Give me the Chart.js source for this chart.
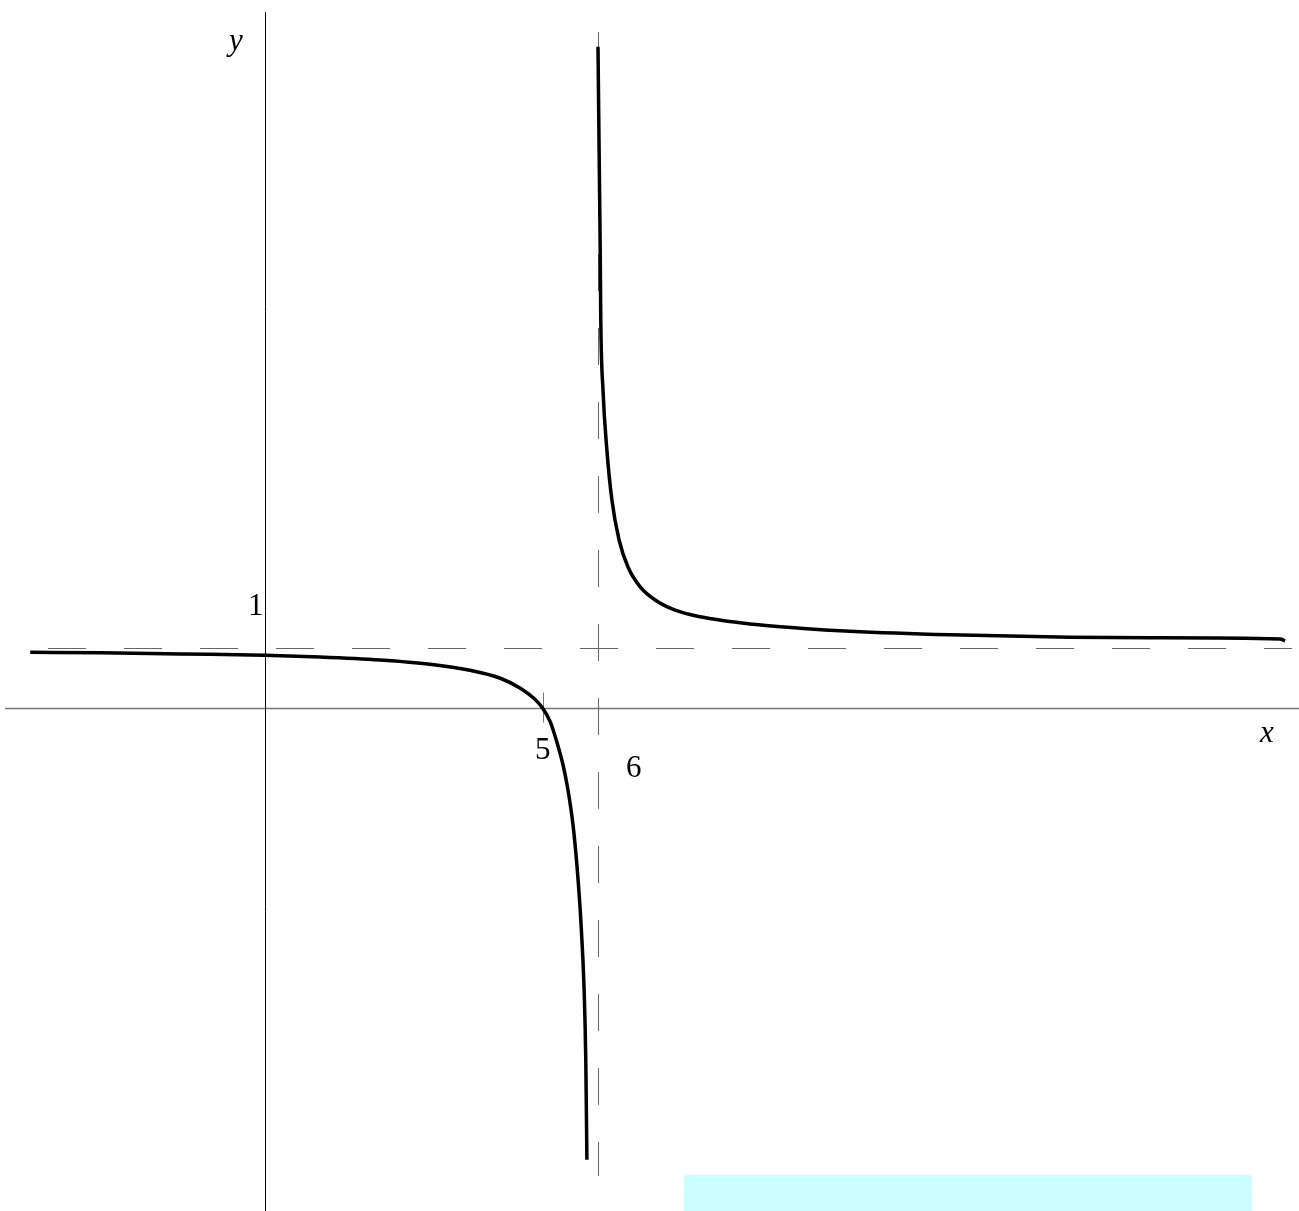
<!DOCTYPE html>
<html>
<head>
<meta charset="utf-8">
<script src="https://cdn.jsdelivr.net/npm/chart.js@4.4.1/dist/chart.umd.min.js"></script>
<style>
  body { margin: 0; background: #fff; }
  #wrap { position: relative; width: 1299px; height: 1211px; }
  #box { position: absolute; left: 684px; top: 1175px; width: 568px; height: 36px; background: #ccffff; }
</style>
</head>
<body>
<div id="wrap">
  <canvas id="chart"></canvas>
  <div id="box"></div>
</div>
<script>
// points, left branch (x < 6) and right branch (x > 6)
var leftX = [-4.23, -2.97, -1.53, 0, 0.99, 2.07, 2.97, 3.69, 4.23, 4.6, 4.86, 5.0, 5.14, 5.26, 5.37, 5.46, 5.55, 5.62, 5.69, 5.75, 5.78, 5.8];
var leftY = [0.93, 0.92, 0.9, 0.88, 0.85, 0.8, 0.73, 0.63, 0.5, 0.33, 0.15, 0, -0.23, -0.57, -0.95, -1.37, -1.95, -2.62, -3.53, -4.7, -5.87, -7.53];
var rightX = [6.0, 6.02, 6.04, 6.05, 6.09, 6.16, 6.25, 6.38, 6.54, 6.76, 7.03, 7.39, 7.84, 8.74, 9.64, 10.54, 12.34, 14.5, 15.95, 18.29, 18.38];
var rightY = [11.02, 9.3, 7.63, 6.47, 5.3, 4.3, 3.47, 2.8, 2.35, 2.02, 1.8, 1.63, 1.52, 1.4, 1.33, 1.28, 1.22, 1.18, 1.17, 1.15, 1.12];

var vAsym = 6;
var hAsym = 1;
var xTicks = [5, 6];
var yTicks = [1];

function toPoints(xs, ys) {
  var pts = [];
  for (var i = 0; i < xs.length; i++) pts.push({ x: xs[i], y: ys[i] });
  return pts;
}

var serif = "'Liberation Serif', 'Times New Roman', Times, serif";

var axesPlugin = {
  id: "axes",
  beforeDatasetsDraw: function (chart) {
    var ctx = chart.ctx;
    var sx = chart.scales.x, sy = chart.scales.y;
    var x0 = Math.round(sx.getPixelForValue(0)) + 0.5, y0 = Math.round(sy.getPixelForValue(0)) + 0.5;
    var xa = Math.round(sx.getPixelForValue(vAsym)) + 0.5, ya = Math.round(sy.getPixelForValue(hAsym)) + 0.5;
    ctx.save();
    // x axis
    ctx.strokeStyle = "#777";
    ctx.lineWidth = 1.5;
    ctx.beginPath();
    ctx.moveTo(5, y0); ctx.lineTo(1299, y0);
    ctx.stroke();
    // tick at 5
    var t5 = Math.round(sx.getPixelForValue(xTicks[0])) + 0.5;
    ctx.lineWidth = 1;
    ctx.beginPath();
    ctx.moveTo(t5, y0 - 16); ctx.lineTo(t5, y0 + 14);
    ctx.stroke();
    // y axis
    ctx.strokeStyle = "#000";
    ctx.lineWidth = 1;
    ctx.beginPath();
    ctx.moveTo(x0, 12); ctx.lineTo(x0, 1211);
    ctx.stroke();
    // asymptotes
    ctx.strokeStyle = "#666";
    ctx.lineWidth = 1;
    ctx.setLineDash([38, 38]);
    ctx.beginPath();
    ctx.moveTo(48, ya); ctx.lineTo(1292, ya);
    ctx.stroke();
    ctx.setLineDash([37, 37]);
    ctx.beginPath();
    ctx.moveTo(xa, 32); ctx.lineTo(xa, 1176);
    ctx.stroke();
    ctx.restore();
  },
  afterDraw: function (chart) {
    var ctx = chart.ctx;
    ctx.save();
    ctx.fillStyle = "#000";
    ctx.textBaseline = "alphabetic";
    ctx.font = "italic 31px " + serif;
    ctx.fillText("y", 229, 50);
    ctx.fillText("x", 1260, 742);
    ctx.font = "31px " + serif;
    ctx.fillText(String(yTicks[0]), 248, 615);
    ctx.fillText(String(xTicks[0]), 535, 759);
    ctx.fillText(String(xTicks[1]), 626, 777);
    ctx.restore();
  }
};

new Chart(document.getElementById("chart"), {
  type: "scatter",
  data: {
    datasets: [
      { data: toPoints(leftX, leftY), showLine: true, borderColor: "#000", borderWidth: 3.5, pointRadius: 0, cubicInterpolationMode: "monotone" },
      { data: toPoints(rightX, rightY), showLine: true, borderColor: "#000", borderWidth: 3.5, pointRadius: 0, cubicInterpolationMode: "monotone" }
    ]
  },
  options: {
    responsive: true,
    maintainAspectRatio: false,
    animation: false,
    layout: { padding: 0 },
    plugins: { legend: { display: false }, tooltip: { enabled: false } },
    scales: {
      x: { type: "linear", display: false, min: -265 / 55.5, max: (1299 - 265) / 55.5 },
      y: { type: "linear", display: false, min: (708 - 1211) / 60, max: 708 / 60 }
    }
  },
  plugins: [axesPlugin]
});
</script>
</body>
</html>
